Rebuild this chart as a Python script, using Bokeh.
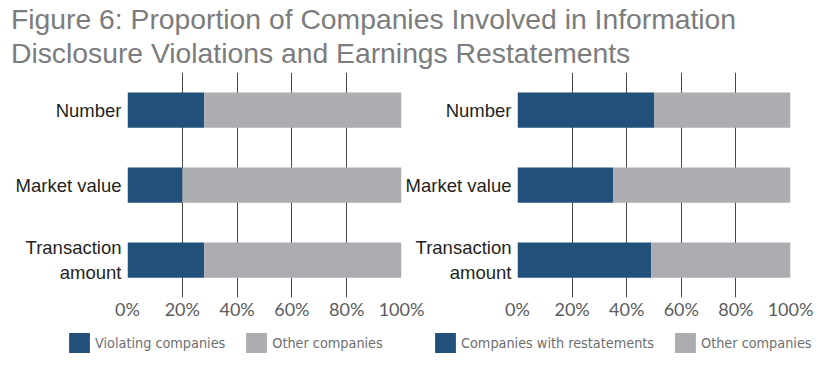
from bokeh.plotting import figure
from bokeh.models import (FactorRange, Range1d, FixedTicker, NumeralTickFormatter,
                          Legend, LegendItem, Div, ColumnDataSource)
from bokeh.layouts import column, row
from bokeh.embed import file_html
from bokeh.resources import INLINE

# ---- data ----
title_lines = ["Figure 6: Proportion of Companies Involved in Information",
               "Disclosure Violations and Earnings Restatements"]
categories = ["Number", "Market value", "Transaction\namount"]
violating = [0.28, 0.20, 0.28]
other_left = [0.72, 0.80, 0.72]
restating = [0.50, 0.35, 0.49]
other_right = [0.50, 0.65, 0.51]
ticks = [0, 0.2, 0.4, 0.6, 0.8, 1.0]
left_labels = ["Violating companies", "Other companies"]
right_labels = ["Companies with restatements", "Other companies"]

DARK = "#21507a"
GREY = "#acadb0"

src_left = ColumnDataSource(dict(cat=categories, a=violating, b=other_left))
src_right = ColumnDataSource(dict(cat=categories, a=restating, b=other_right))


def panel(src, width, border_left, border_right):
    p = figure(y_range=FactorRange(factors=categories[::-1], range_padding=0),
               x_range=Range1d(0, 1), title=None,
               width=width, height=258,
               min_border_left=border_left, min_border_right=border_right,
               min_border_top=2, min_border_bottom=31,
               output_backend="svg", toolbar_location=None,
               outline_line_color=None, background_fill_color="white")
    p.hbar_stack(["a", "b"], y="cat", height=0.47, color=[DARK, GREY],
                 line_color=None, source=src)
    p.xaxis.ticker = FixedTicker(ticks=ticks)
    p.xaxis.formatter = NumeralTickFormatter(format="0%")
    p.xaxis.axis_line_color = None
    p.xaxis.major_tick_line_color = None
    p.xaxis.minor_tick_line_color = None
    p.xaxis.major_tick_out = 0
    p.xaxis.major_tick_in = 0
    p.xaxis.major_label_standoff = 0
    p.xaxis.major_label_text_font = "Lato"
    p.xaxis.major_label_text_font_size = "18px"
    p.xaxis.major_label_text_color = "#5a5b5e"
    p.yaxis.axis_line_color = None
    p.yaxis.major_tick_line_color = None
    p.yaxis.major_tick_out = 0
    p.yaxis.major_tick_in = 0
    p.yaxis.major_label_standoff = 6
    p.yaxis.major_label_text_font = "Liberation Sans"
    p.yaxis.major_label_text_font_size = "18.5px"
    p.yaxis.major_label_text_color = "#231f20"
    p.ygrid.grid_line_color = None
    p.xgrid.ticker = FixedTicker(ticks=ticks)
    p.xgrid.grid_line_color = "#484848"
    p.xgrid.grid_line_width = 1
    return p


p1 = panel(src_left, 424, 127, 23)
p2 = panel(src_right, 425, 113, 37)
p2.border_fill_color = None
p2.margin = (0, 0, 0, -22)

# legend strip: the series renderers are repeated here hidden, only to supply
# the legend swatches (a legend placed below the frame gets clipped)
pl = figure(width=832, height=34, x_range=Range1d(0, 1),
            y_range=FactorRange(factors=categories[::-1]),
            min_border=0, output_backend="svg", toolbar_location=None,
            outline_line_color=None, title=None)
pl.axis.visible = False
pl.grid.visible = False
rl = pl.hbar_stack(["a", "b"], y="cat", height=0.47, color=[DARK, GREY],
                   line_color=None, source=src_left, visible=False)
rr = pl.hbar_stack(["a", "b"], y="cat", height=0.47, color=[DARK, GREY],
                   line_color=None, source=src_right, visible=False)


def make_legend(labels, rs, x):
    return Legend(items=[LegendItem(label=labels[0], renderers=[rs[0]]),
                         LegendItem(label=labels[1], renderers=[rs[1]])],
                  orientation="horizontal", location=(x, 7),
                  glyph_width=26, glyph_height=25, label_standoff=3, spacing=18,
                  padding=0, margin=0, border_line_color=None,
                  background_fill_alpha=0, inactive_fill_alpha=0,
                  label_text_font="'DejaVu Sans Condensed', 'Liberation Sans'",
                  label_text_font_size="14.3px", label_text_color="#6d6e71",
                  label_height=25)


pl.add_layout(make_legend(left_labels, rl, 66), "center")
pl.add_layout(make_legend(right_labels, rr, 432), "center")

div = Div(text=("<div style=\"position:relative; top:2px; left:11px; "
                "font-family:'Liberation Sans'; font-size:28.3px; line-height:34px; "
                "color:#7b7c7e; white-space:nowrap;\">"
                + "<br>".join(title_lines) + "</div>"),
          width=832, height=70, margin=0)

layout = column(div, row(p1, p2), pl)
open("out.html", "w").write(file_html(layout, INLINE))
